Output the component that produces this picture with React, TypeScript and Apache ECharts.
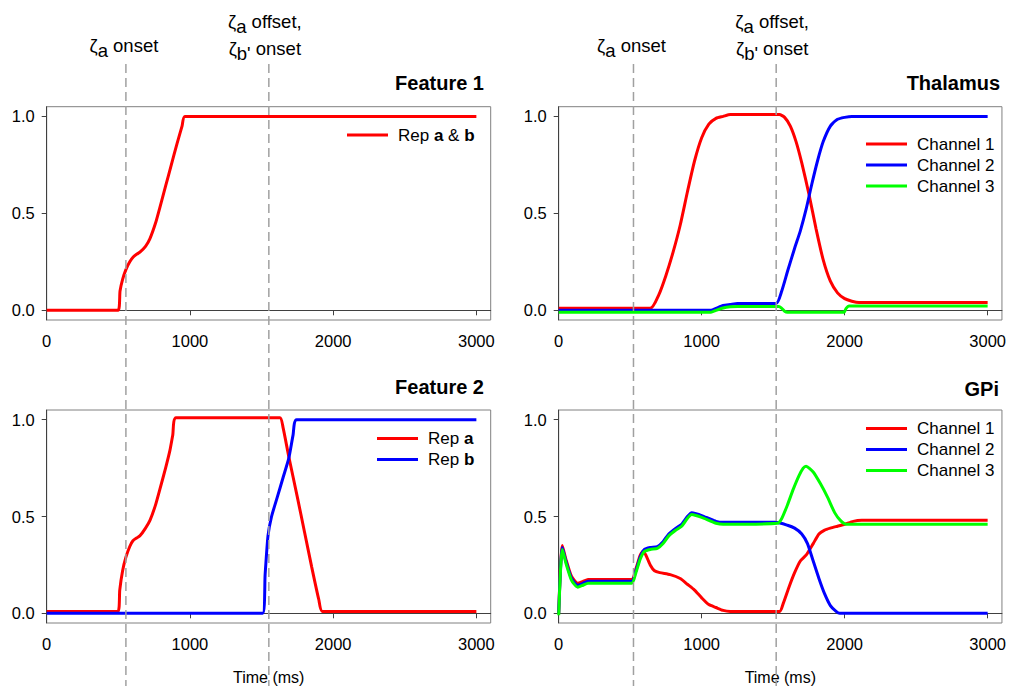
import React, { useEffect, useRef } from "react";
import * as echarts from "echarts";

// ---------- DATA ----------
const X_TICKS = [0, 1000, 2000, 3000];
const Y_TICKS = [0, 0.5, 1.0];

// event markers (ms)
const LEFT_MARKERS = [553, 1551];
const RIGHT_MARKERS = [523, 1521];

// Feature 1 : Rep a & b
const F1_T = [0, 498, 512, 530, 553, 580, 604, 630, 651, 690, 721, 760, 790, 830, 870, 910, 945, 965, 3000];
const F1_V = [0, 0, 0.1, 0.16, 0.21, 0.25, 0.275, 0.29, 0.3, 0.33, 0.37, 0.45, 0.53, 0.64, 0.75, 0.86, 0.95, 1.0, 1.0];

// Feature 2 : Rep a
const F2A_T = [0, 498, 510, 530, 553, 580, 602, 630, 651, 690, 721, 760, 790, 830, 860, 880, 903, 1628, 1650, 1690, 1750, 1800, 1850, 1900, 1925, 3000];
const F2A_V = [0.01, 0.01, 0.12, 0.22, 0.29, 0.345, 0.375, 0.39, 0.4, 0.44, 0.48, 0.56, 0.64, 0.75, 0.84, 0.92, 1.01, 1.01, 0.96, 0.81, 0.6, 0.42, 0.24, 0.07, 0.01, 0.01];
// Feature 2 : Rep b
const F2B_T = [0, 1508, 1525, 1545, 1570, 1610, 1650, 1690, 1720, 1745, 3000];
const F2B_V = [0, 0, 0.2, 0.4, 0.5, 0.6, 0.7, 0.8, 0.92, 1.0, 1.0];

// Thalamus
const TH1_T = [0, 640, 700, 750, 800, 850, 900, 950, 1000, 1050, 1100, 1150, 1200, 1543, 1580, 1620, 1660, 1700, 1750, 1800, 1850, 1900, 1950, 2000, 2050, 2100, 3000];
const TH1_V = [0.01, 0.01, 0.08, 0.18, 0.3, 0.44, 0.61, 0.77, 0.89, 0.96, 0.99, 1.0, 1.01, 1.01, 0.995, 0.95, 0.87, 0.76, 0.6, 0.42, 0.26, 0.15, 0.09, 0.06, 0.047, 0.04, 0.04];
const TH2_T = [0, 1065, 1100, 1150, 1200, 1250, 1520, 1560, 1600, 1650, 1690, 1730, 1770, 1810, 1850, 1900, 1950, 2000, 2050, 3000];
const TH2_V = [0, 0, 0.01, 0.025, 0.03, 0.035, 0.035, 0.1, 0.2, 0.32, 0.41, 0.52, 0.65, 0.77, 0.87, 0.95, 0.985, 0.995, 1.0, 1.0];
const TH3_T = [0, 1065, 1100, 1150, 1200, 1250, 1540, 1560, 1580, 1600, 1995, 2010, 2030, 3000];
const TH3_V = [-0.01, -0.01, 0.0, 0.012, 0.018, 0.02, 0.02, 0.01, -0.005, -0.01, -0.01, 0.01, 0.022, 0.022];

// GPi
const GP1_T = [0, 10, 25, 50, 90, 133, 170, 205, 510, 540, 570, 590, 610, 640, 670, 707, 780, 850, 900, 950, 1000, 1050, 1100, 1150, 1200, 1545, 1570, 1613, 1650, 1690, 1730, 1780, 1820, 1860, 1900, 1950, 2000, 2060, 2120, 3000];
const GP1_V = [0, 0.2, 0.35, 0.28, 0.19, 0.155, 0.165, 0.175, 0.175, 0.23, 0.3, 0.32, 0.3, 0.25, 0.22, 0.21, 0.2, 0.18, 0.15, 0.12, 0.08, 0.045, 0.03, 0.015, 0.01, 0.01, 0.05, 0.14, 0.21, 0.27, 0.3, 0.36, 0.41, 0.43, 0.44, 0.45, 0.46, 0.475, 0.48, 0.48];
const GP2_T = [0, 10, 25, 50, 90, 133, 170, 205, 510, 540, 570, 600, 640, 690, 730, 770, 820, 860, 900, 930, 960, 1000, 1050, 1100, 1150, 1520, 1600, 1650, 1700, 1740, 1780, 1820, 1860, 1900, 1940, 1965, 3000];
const GP2_V = [0, 0.19, 0.34, 0.27, 0.18, 0.145, 0.155, 0.165, 0.165, 0.22, 0.29, 0.33, 0.34, 0.345, 0.37, 0.41, 0.44, 0.46, 0.5, 0.52, 0.515, 0.505, 0.49, 0.475, 0.47, 0.47, 0.455, 0.44, 0.41, 0.36, 0.27, 0.18, 0.1, 0.04, 0.01, 0, 0];
const GP3_T = [0, 10, 25, 50, 90, 133, 170, 205, 510, 540, 570, 600, 640, 690, 730, 770, 820, 860, 900, 930, 960, 1000, 1050, 1100, 1150, 1530, 1560, 1600, 1640, 1680, 1710, 1730, 1780, 1830, 1880, 1930, 1970, 2010, 3000];
const GP3_V = [-0.01, 0.18, 0.33, 0.26, 0.17, 0.135, 0.145, 0.155, 0.155, 0.21, 0.28, 0.32, 0.33, 0.335, 0.36, 0.4, 0.43, 0.45, 0.49, 0.51, 0.505, 0.495, 0.48, 0.465, 0.46, 0.465, 0.49, 0.56, 0.64, 0.71, 0.75, 0.76, 0.73, 0.67, 0.6, 0.52, 0.48, 0.46, 0.46];

// ---------- STYLE ----------
const FONT = "'Liberation Sans', Arial, sans-serif";
const RED = "#ff0000";
const BLUE = "#0000ff";
const GREEN = "#00ff00";

const zip = (t: number[], v: number[]) => t.map((x, i) => [x, v[i]]);

const GRIDS = [
  { left: 46.7, top: 106.7, width: 444, height: 213.3 },
  { left: 558.7, top: 106.7, width: 444.3, height: 213.3 },
  { left: 46.7, top: 410, width: 444, height: 213.3 },
  { left: 558.7, top: 410, width: 444.3, height: 213.3 },
];

function measure(text: string, size: number) {
  const c = document.createElement("canvas").getContext("2d");
  if (!c) return text.length * size * 0.5;
  c.font = `${size}px "Liberation Sans"`;
  return c.measureText(text).width;
}

export default function App() {
  const ref = useRef<HTMLDivElement>(null);
  useEffect(() => {
    if (!ref.current) return;
    const chart = echarts.init(ref.current, undefined, { renderer: "svg" });

    const xAxis = GRIDS.map((_, i) => ({
      type: "value",
      gridIndex: i,
      min: 0,
      max: 3100,
      interval: 1000,
      name: i >= 2 ? "Time (ms)" : "",
      nameLocation: "middle",
      nameGap: 46,
      nameTextStyle: { fontFamily: FONT, fontSize: 16, color: "#000" },
      axisLine: { show: true, lineStyle: { color: "#404040", width: 1 } },
      axisTick: { show: true, inside: false, length: 5, customValues: X_TICKS, lineStyle: { color: "#404040" } },
      axisLabel: {
        customValues: X_TICKS,
        margin: 12,
        fontFamily: FONT,
        fontSize: 16.5,
        color: "#000",
        formatter: (v: number) => String(Math.round(v)),
      },
      splitLine: { show: false },
    }));
    const yAxis = GRIDS.map((_, i) => ({
      type: "value",
      gridIndex: i,
      min: -0.05,
      max: 1.05,
      axisLine: { show: true, lineStyle: { color: "#404040", width: 1 } },
      axisTick: { show: true, inside: false, length: 5, customValues: Y_TICKS, lineStyle: { color: "#404040" } },
      axisLabel: {
        customValues: Y_TICKS,
        margin: 12,
        fontFamily: FONT,
        fontSize: 16.5,
        color: "#000",
        formatter: (v: number) => v.toFixed(1),
      },
      splitLine: { show: false },
    }));

    const line = (name: string, color: string, idx: number, t: number[], v: number[]) => ({
      type: "line",
      name,
      xAxisIndex: idx,
      yAxisIndex: idx,
      data: zip(t, v),
      showSymbol: false,
      symbol: "none",
      smooth: 0.2,
      lineStyle: { color, width: 3 },
      itemStyle: { color },
      emphasis: { disabled: true },
    });

    const legendText = {
      fontFamily: FONT,
      fontSize: 17,
      color: "#000",
      padding: [0, 0, 0, 5],
      rich: {
        n: { fontFamily: FONT, fontSize: 17, color: "#000" },
        b: { fontFamily: FONT, fontSize: 17, color: "#000", fontWeight: "bold" },
      },
    };
    const legendBase = {
      orient: "vertical",
      align: "left",
      padding: 0,
      itemWidth: 41,
      itemHeight: 3,
      itemGap: 4,
      icon: "rect",
      selectedMode: false,
      textStyle: legendText,
    };
    const repFormatter = (name: string) => {
      if (name === "Rep a & b") return "{n|Rep }{b|a}{n| & }{b|b}";
      if (name === "Rep a") return "{n|Rep }{b|a}";
      if (name === "Rep b") return "{n|Rep }{b|b}";
      return name;
    };

    const option: any = {
      animation: false,
      grid: GRIDS.map((g) => ({ ...g, show: true, borderColor: "#808080", borderWidth: 1, backgroundColor: "transparent" })),
      xAxis,
      yAxis,
      legend: [
        { ...legendBase, left: 347, top: 126.5, data: ["Rep a & b"], formatter: repFormatter },
        { ...legendBase, left: 377, top: 430, data: ["Rep a", "Rep b"], formatter: repFormatter },
        { ...legendBase, left: 866, top: 135.5, data: ["Channel 1", "Channel 2", "Channel 3"] },
        { ...legendBase, left: 866, top: 420, data: ["Channel 1", "Channel 2", "Channel 3"] },
      ],
      series: [
        line("Rep a & b", RED, 0, F1_T, F1_V),
        line("Rep a", RED, 2, F2A_T, F2A_V),
        line("Rep b", BLUE, 2, F2B_T, F2B_V),
        line("Channel 1", RED, 1, TH1_T, TH1_V),
        line("Channel 2", BLUE, 1, TH2_T, TH2_V),
        line("Channel 3", GREEN, 1, TH3_T, TH3_V),
        line("Channel 1", RED, 3, GP1_T, GP1_V),
        line("Channel 2", BLUE, 3, GP2_T, GP2_V),
        line("Channel 3", GREEN, 3, GP3_T, GP3_V),
      ],
    };
    chart.setOption(option);

    // ---- overlays: dashed markers, annotations, titles ----
    const graphics: any[] = [];
    const markerPx: number[][] = [
      LEFT_MARKERS.map((m) => chart.convertToPixel({ xAxisIndex: 0 }, m) as number),
      RIGHT_MARKERS.map((m) => chart.convertToPixel({ xAxisIndex: 1 }, m) as number),
    ];
    markerPx.forEach((col) =>
      col.forEach((px) =>
        graphics.push({
          type: "line",
          silent: true,
          z: 50,
          shape: { x1: px, y1: 64, x2: px, y2: 686 },
          style: { stroke: "#a0a0a0", lineWidth: 1.5, lineDash: [9, 5] },
        })
      )
    );

    const SZ = 18.5;
    const pieceLine = (cx: number, baseline: number, pieces: { t: string; dy: number }[]) => {
      const widths = pieces.map((p) => measure(p.t, SZ));
      const total = widths.reduce((a, b) => a + b, 0);
      let x = cx - total / 2;
      pieces.forEach((p, i) => {
        graphics.push({
          type: "text",
          silent: true,
          x,
          y: baseline + p.dy - SZ * 0.35,
          style: {
            text: p.t,
            fontFamily: FONT,
            fontSize: SZ,
            fill: "#000",
            align: "left",
            verticalAlign: "middle",
          },
        });
        x += widths[i];
      });
    };
    markerPx.forEach((col) => {
      pieceLine(col[0] - 2, 52, [
        { t: "ζ", dy: 0 },
        { t: "a", dy: 5 },
        { t: " onset", dy: 0 },
      ]);
      pieceLine(col[1] - 4, 28, [
        { t: "ζ", dy: 0 },
        { t: "a", dy: 5 },
        { t: " offset,", dy: 0 },
      ]);
      pieceLine(col[1] - 4, 55, [
        { t: "ζ", dy: 0 },
        { t: "b'", dy: 5 },
        { t: " onset", dy: 0 },
      ]);
    });

    const title = (text: string, x: number, y: number) =>
      graphics.push({
        type: "text",
        silent: true,
        x,
        y,
        style: {
          text,
          fontFamily: FONT,
          fontSize: 20,
          fontWeight: "bold",
          fill: "#000",
          align: "right",
          verticalAlign: "middle",
        },
      });
    title("Feature 1", 484, 83);
    title("Thalamus", 1000, 83);
    title("Feature 2", 484, 387);
    title("GPi", 999, 389);

    chart.setOption({ graphic: graphics });

    return () => chart.dispose();
  }, []);

  return (
    <div
      ref={ref}
      style={{ position: "fixed", left: 0, top: 0, width: 1009, height: 686, background: "#fff" }}
    />
  );
}
